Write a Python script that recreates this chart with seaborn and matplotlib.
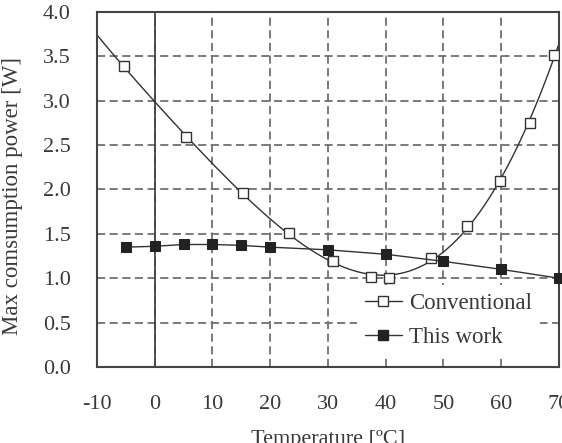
import matplotlib
matplotlib.use("Agg")
import matplotlib.pyplot as plt
from matplotlib.lines import Line2D
import seaborn as sns
import pandas as pd

# Conventional (open squares)
temp_conv = [-5.4, 5.4, 15.3, 23.2, 30.9, 37.4, 40.6, 47.8, 54.0, 59.8, 65.0, 69.2]
power_conv = [3.39, 2.59, 1.96, 1.51, 1.19, 1.01, 1.00, 1.23, 1.59, 2.10, 2.75, 3.52]

# This work (filled squares)
temp_this = [-5, 0, 5, 10, 15, 20, 30, 40, 50, 60, 70]
power_this = [1.35, 1.36, 1.38, 1.38, 1.37, 1.35, 1.32, 1.27, 1.19, 1.10, 1.00]

x_ticks = [-10, 0, 10, 20, 30, 40, 50, 60, 70]
y_ticks = [0.0, 0.5, 1.0, 1.5, 2.0, 2.5, 3.0, 3.5, 4.0]

sns.set_theme(style="white")
plt.rcParams["font.family"] = ["Liberation Serif", "DejaVu Serif"]
plt.rcParams["axes.unicode_minus"] = False

df_conv = pd.DataFrame({"temp": temp_conv, "power": power_conv})
df_this = pd.DataFrame({"temp": temp_this, "power": power_this})

line_col = "#333333"
grid_col = "#707070"
text_col = "#3a3a3a"

fig = plt.figure(figsize=(5.62, 4.43), dpi=100)
ax = fig.add_axes([0.1726, 0.1716, 0.822, 0.8014])
ax.set_xlim(-10, 70)
ax.set_ylim(0, 4)

# сетка
ax.set_xticks(x_ticks)
ax.set_yticks(y_ticks)
ax.set_xticklabels([str(t) for t in x_ticks])
ax.set_yticklabels([f"{t:.1f}" for t in y_ticks])
ax.grid(True, color=grid_col, linestyle=(0, (4.5, 2.5)), linewidth=1.3)
ax.set_axisbelow(True)
ax.axvline(0, color="#444444", linewidth=1.3, zorder=1)

# Conventional: polynomial trend line + open squares
sns.regplot(data=df_conv, x="temp", y="power", order=5, ci=None, truncate=False,
            scatter=False, ax=ax, line_kws={"color": line_col, "linewidth": 1.0})
ax.plot(temp_conv, power_conv, linestyle="none", marker="s", markersize=7.5,
        markerfacecolor="white", markeredgecolor=line_col, markeredgewidth=1.0, zorder=4)

# This work
sns.lineplot(data=df_this, x="temp", y="power", ax=ax, color=line_col, linewidth=1.0,
             marker="s", markersize=7.5, markerfacecolor="#222222",
             markeredgecolor="#222222", clip_on=False, zorder=5)

for s in ax.spines.values():
    s.set_color("#444444")
    s.set_linewidth(1.5)

ax.tick_params(axis="both", length=0, labelsize=16, colors=text_col)
ax.tick_params(axis="x", pad=20)
ax.tick_params(axis="y", pad=19)
ax.set_xlabel("Temperature [ºC]", fontsize=16, color=text_col, labelpad=12)
ax.set_ylabel("Max comsumption power [W]", fontsize=16.5, color=text_col)
ax.yaxis.set_label_coords(-0.16, 0.482)

handles = [
    Line2D([], [], color=line_col, linewidth=1.0, marker="s", markersize=7.5,
           markerfacecolor="white", markeredgecolor=line_col),
    Line2D([], [], color=line_col, linewidth=1.0, marker="s", markersize=7.5,
           markerfacecolor="#222222", markeredgecolor="#222222"),
]
leg = ax.legend(handles, ["Conventional", "This work"], loc="upper left",
                bbox_to_anchor=(0.563, 0.232), fontsize=16.5, frameon=True,
                fancybox=False, framealpha=1, facecolor="white", edgecolor="none",
                borderaxespad=0, borderpad=0.35, handlelength=1.6, handletextpad=0.3,
                labelspacing=0.6)
for t in leg.get_texts():
    t.set_color(text_col)

fig.savefig("out.png", dpi=100)
